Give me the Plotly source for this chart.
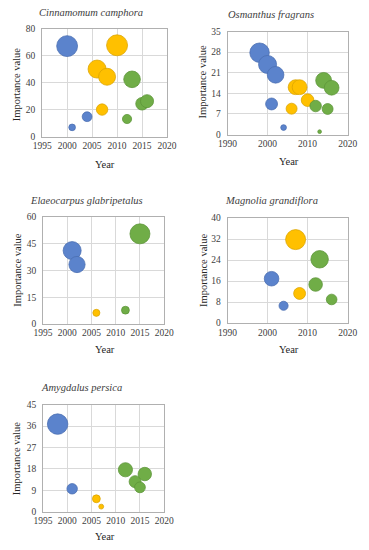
import plotly.graph_objects as go

W, H = 369, 550

# ---- data: (years, importance values) per period group; bubble size = importance value
species = ["Cinnamomum camphora", "Osmanthus fragrans", "Elaeocarpus glabripetalus",
           "Magnolia grandiflora", "Amygdalus persica"]

cc_blue_x = [2000, 2001, 2004]
cc_blue_y = [67, 6.8, 14.7]
cc_orange_x = [2010, 2006, 2008, 2007]
cc_orange_y = [67.6, 50, 44.3, 20]
cc_green_x = [2013, 2012, 2015, 2016]
cc_green_y = [42.4, 13, 24.3, 26.2]

of_blue_x = [1998, 2000, 2002, 2001, 2004]
of_blue_y = [27.8, 23.8, 20.3, 10.4, 2.4]
of_orange_x = [2007, 2008, 2006, 2010]
of_orange_y = [16.1, 16.1, 8.8, 11.7]
of_green_x = [2014, 2016, 2012, 2015, 2013]
of_green_y = [18.4, 15.9, 9.7, 8.7, 1.0]

eg_blue_x = [2001, 2002]
eg_blue_y = [41.2, 33.4]
eg_orange_x = [2006]
eg_orange_y = [6.3]
eg_green_x = [2015, 2012]
eg_green_y = [50.6, 7.8]

mg_blue_x = [2001, 2004]
mg_blue_y = [16.9, 6.6]
mg_orange_x = [2007, 2008]
mg_orange_y = [31.8, 11.3]
mg_green_x = [2013, 2012, 2016]
mg_green_y = [24.3, 14.7, 9.0]

ap_blue_x = [1998, 2001]
ap_blue_y = [36.8, 9.6]
ap_orange_x = [2006, 2007]
ap_orange_y = [5.4, 2.1]
ap_green_x = [2012, 2014, 2015, 2016]
ap_green_y = [17.6, 12.6, 10.2, 15.8]

x_ticks = [[1995, 2000, 2005, 2010, 2015, 2020],
           [1990, 2000, 2010, 2020],
           [1995, 2000, 2005, 2010, 2015, 2020],
           [1990, 2000, 2010, 2020],
           [1995, 2000, 2005, 2010, 2015, 2020]]
y_ticks = [[0, 20, 40, 60, 80],
           [0, 7, 14, 21, 28, 35],
           [0, 15, 30, 45, 60],
           [0, 8, 16, 24, 32, 40],
           [0, 9, 18, 27, 36, 45]]

panels = [
    [(cc_blue_x, cc_blue_y), (cc_orange_x, cc_orange_y), (cc_green_x, cc_green_y)],
    [(of_blue_x, of_blue_y), (of_orange_x, of_orange_y), (of_green_x, of_green_y)],
    [(eg_blue_x, eg_blue_y), (eg_orange_x, eg_orange_y), (eg_green_x, eg_green_y)],
    [(mg_blue_x, mg_blue_y), (mg_orange_x, mg_orange_y), (mg_green_x, mg_green_y)],
    [(ap_blue_x, ap_blue_y), (ap_orange_x, ap_orange_y), (ap_green_x, ap_green_y)],
]

# ---- layout (pixel boxes of plot areas: x0, x1, y0, y1 from top)
boxes = [(34, 166, 24, 134), (230, 357, 27, 132), (35, 163, 216, 325),
         (230, 357, 217, 324), (35, 163, 407, 516)]
max_diam = [21, 19.5, 20, 20, 20.5]
title_pos = [(86, 8), (276, 10), (81, 199), (276, 199), (76, 390)]
xtitle_pos = [(100, 162), (295, 159), (100, 351), (295, 351), (100, 541)]
ytitle_pos = [(7, 81), (204, 78), (7, 270), (204, 270), (7, 462)]

fills = ["#5B83CC", "#FFC000", "#70AD47"]
edges = ["#4A6DB0", "#D9A300", "#5C9438"]
SERIF = "Liberation Serif, Times New Roman, serif"

fig = go.Figure()
annotations = []
for i, groups in enumerate(panels):
    n = "" if i == 0 else str(i + 1)
    allv = [v for g in groups for v in g[1]]
    sref = 2.0 * max(allv) / (max_diam[i] ** 2)
    for k, (gx, gy) in enumerate(groups):
        fig.add_trace(go.Scatter(
            x=gx, y=gy, mode="markers", xaxis="x" + n, yaxis="y" + n,
            showlegend=False, hoverinfo="x+y",
            marker=dict(size=gy, sizemode="area", sizeref=sref,
                        color=fills[k], opacity=1,
                        line=dict(color=edges[k], width=0.75))))
    x0, x1, y0, y1 = boxes[i]
    xt, yt = x_ticks[i], y_ticks[i]
    ax = dict(domain=[x0 / W, x1 / W], range=[xt[0], xt[-1]], tickvals=xt,
              showgrid=True, gridcolor="#D9D9D9", gridwidth=1,
              showline=True, linecolor="#B0B0B0", linewidth=1, mirror=True,
              zeroline=False, ticks="", fixedrange=True,
              tickfont=dict(family=SERIF, size=9.5, color="#404040"),
              anchor="y" + n)
    ay = dict(domain=[1 - y1 / H, 1 - y0 / H], range=[yt[0], yt[-1]], tickvals=yt,
              showgrid=True, gridcolor="#D9D9D9", gridwidth=1,
              showline=True, linecolor="#B0B0B0", linewidth=1, mirror=True,
              zeroline=False, ticks="", fixedrange=True,
              tickfont=dict(family=SERIF, size=9.5, color="#404040"),
              anchor="x" + n, ticklabelstandoff=4)
    fig.update_layout(**{"xaxis" + n: ax, "yaxis" + n: ay})
    tx, ty = title_pos[i]
    annotations.append(dict(text="<i>" + species[i] + "</i>", x=tx / W, y=1 - ty / H,
                            xref="paper", yref="paper", showarrow=False,
                            xanchor="center", yanchor="middle",
                            font=dict(family=SERIF, size=10.5, color="#404040")))
    ex, ey = xtitle_pos[i]
    annotations.append(dict(text="Year", x=ex / W, y=1 - ey / H,
                            xref="paper", yref="paper", showarrow=False,
                            xanchor="center", yanchor="middle",
                            font=dict(family=SERIF, size=10.5, color="#262626")))
    vx, vy = ytitle_pos[i]
    annotations.append(dict(text="Importance value", x=vx / W, y=1 - vy / H,
                            xref="paper", yref="paper", showarrow=False,
                            xanchor="center", yanchor="middle", textangle=-90,
                            font=dict(family=SERIF, size=10.5, color="#262626")))

fig.update_layout(width=W, height=H, margin=dict(l=0, r=0, t=0, b=0),
                  paper_bgcolor="white", plot_bgcolor="white",
                  annotations=annotations, showlegend=False)
fig.write_html("out.html", config={"displayModeBar": False},
               post_script="document.body.style.margin='0';document.body.style.overflow='hidden';")
